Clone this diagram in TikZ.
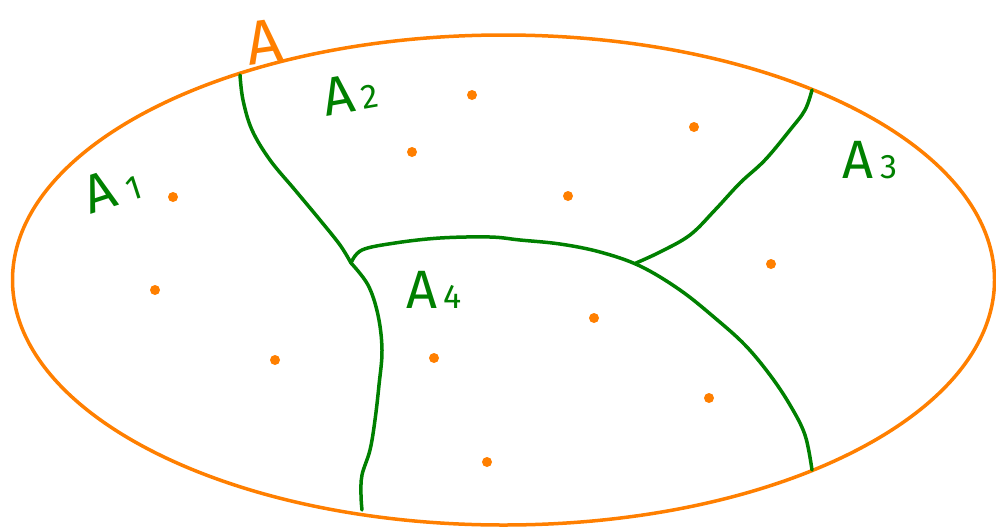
\documentclass[tikz,border=0pt]{standalone}
\usepackage{fontspec}
\setmainfont{Fira Sans}
\definecolor{penorange}{RGB}{255,127,0}
\definecolor{pengreen}{RGB}{0,128,0}

\newcommand{\setname}[1]{A\hspace{0.12em}{\fontsize{34}{34}\selectfont #1}}

\begin{document}
\begin{tikzpicture}[x=1pt, y=-1pt, line cap=round, line join=round,
  boundary/.style={penorange, line width=3.5pt},
  cut/.style={pengreen, line width=3.5pt},
  point/.style={circle, fill=penorange, inner sep=0pt, minimum size=10pt},
  setlabel/.style={pengreen, font=\fontsize{54}{54}\selectfont}]

  \useasboundingbox (0,0) rectangle (996,528);

  % the whole set A
  \draw[boundary] (503.5,280) ellipse[x radius=491, y radius=245];
  \node[penorange, font=\fontsize{62}{62}\selectfont, rotate=8] (lblA) at (264,42) {A};

  % where the cuts meet
  \coordinate (j) at (351,263);
  \coordinate (k) at (636,263);

  % the cuts
  \draw[cut] plot[smooth, tension=0.6] coordinates {(240,75) (243,100) (252,130) (270,160) (295,190) (320,220) (340,245) (j)};
  \draw[cut] plot[smooth, tension=0.6] coordinates {(j) (368,285) (378,315) (382,350) (379,385) (375,420) (370,450) (362,475) (361,495) (362,510)};
  \draw[cut] plot[smooth, tension=0.6] coordinates {(j) (362,250) (395,243) (440,238) (490,237) (520,240) (560,244) (600,252) (640,266) (680,290) (715,318) (745,345) (770,375) (790,405) (805,435) (812,470)};
  \draw[cut] plot[smooth, tension=0.6] coordinates {(812,90) (805,110) (790,130) (765,160) (740,183) (715,210) (690,235) (660,252) (k)};

  % the parts
  \node[setlabel, rotate=18] (a1) at (112,188) {A\hspace{0.2em}{\fontsize{34}{34}\selectfont 1}};
  \node[setlabel, rotate=10] (a2) at (350,93) {\setname{2}};
  \node[setlabel] (a3) at (870,160) {\setname{3}};
  \node[setlabel] (a4) at (434,290) {\setname{4}};

  % points of A
  \foreach \x/\y [count=\i] in {472/95, 694/127, 412/152, 173/197, 568/196, 155/290,
                                771/264, 594/318, 275/360, 434/358, 709/398, 487/462}
    \node[point] (p\i) at (\x,\y) {};
\end{tikzpicture}
\end{document}
